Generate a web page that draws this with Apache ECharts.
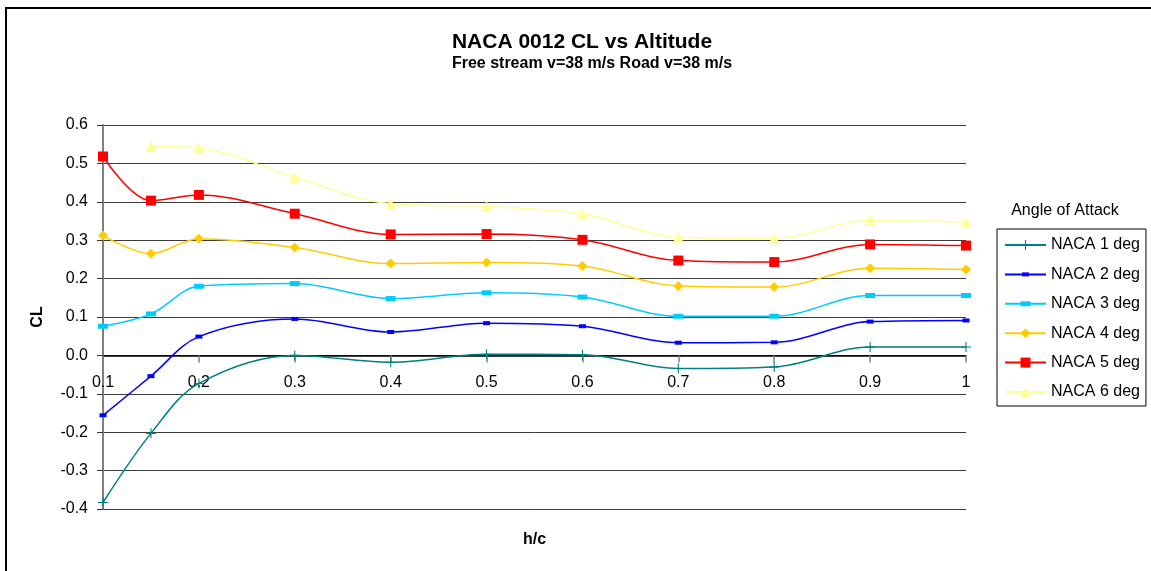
<!DOCTYPE html>
<html>
<head>
<meta charset="utf-8">
<script src="https://cdn.jsdelivr.net/npm/echarts@6/dist/echarts.min.js"></script>
<style>
  html, body { margin: 0; padding: 0; background: #ffffff; }
  #chart { width: 1151px; height: 571px; }
</style>
</head>
<body>
<div id="chart"></div>
<script>
// Height-to-chord ratio at which CL was sampled
var hc = [0.1, 0.15, 0.2, 0.3, 0.4, 0.5, 0.6, 0.7, 0.8, 0.9, 1.0];

// Lift coefficient for each angle of attack (null = no sample)
var naca1 = [-0.383, -0.203, -0.073, 0.000, -0.018, 0.003, 0.002, -0.034, -0.030, 0.022, 0.022];
var naca2 = [-0.156, -0.054, 0.049, 0.095, 0.061, 0.084, 0.076, 0.033, 0.034, 0.088, 0.091];
var naca3 = [0.076, 0.108, 0.180, 0.187, 0.148, 0.163, 0.152, 0.102, 0.102, 0.156, 0.156];
var naca4 = [0.312, 0.265, 0.304, 0.281, 0.239, 0.242, 0.233, 0.181, 0.178, 0.227, 0.224];
var naca5 = [0.518, 0.403, 0.418, 0.369, 0.315, 0.316, 0.301, 0.247, 0.243, 0.289, 0.286];
var naca6 = [null, 0.544, 0.540, 0.464, 0.395, 0.388, 0.369, 0.308, 0.305, 0.351, 0.347];

var seriesNames = ['NACA 1 deg', 'NACA 2 deg', 'NACA 3 deg', 'NACA 4 deg', 'NACA 5 deg', 'NACA 6 deg'];
var yTicks = { min: -0.4, max: 0.6, step: 0.1 };
var xTicks = { min: 0.1, max: 1.0, step: 0.1 };

var FONT = "'Liberation Sans', Arial, sans-serif";

function pairs(values) {
  var out = [];
  for (var i = 0; i < hc.length; i++) {
    if (values[i] !== null) out.push([hc[i], values[i]]);
  }
  return out;
}

// Marker shapes, all laid out in a 10x10 box so the legend icons keep the same proportions
var plusPath = 'path://M0,0 M10,10 M4.45,0 h1.1 v4.45 h4.45 v1.1 h-4.45 v4.45 h-1.1 v-4.45 h-4.45 v-1.1 h4.45 z';
var thinBar = 'path://M0,0 M10,10 M1.5,3 h7 v4 h-7 z';
var wideBar = 'path://M0,0 M10,10 M0,2.5 h10 v5 h-10 z';

var styles = [
  { color: '#008080', symbol: plusPath, size: 10 },
  { color: '#0000FF', symbol: thinBar, size: 10 },
  { color: '#00CCFF', symbol: wideBar, size: 10 },
  { color: '#FFCC00', symbol: 'diamond', size: 10 },
  { color: '#FF0000', symbol: 'rect', size: 10 },
  { color: '#FFFF99', symbol: 'triangle', size: 11 }
];

var allValues = [naca1, naca2, naca3, naca4, naca5, naca6];

var series = allValues.map(function (vals, i) {
  var s = styles[i];
  return {
    name: seriesNames[i],
    type: 'line',
    data: pairs(vals),
    smooth: 0.35,
    symbol: s.symbol,
    symbolSize: s.size,
    showAllSymbol: true,
    lineStyle: { color: s.color, width: 1.5 },
    itemStyle: { color: s.color },
    emphasis: { disabled: true },
    z: 3 + i
  };
});

var chart = echarts.init(document.getElementById('chart'), null, { renderer: 'canvas' });

chart.setOption({
  animation: false,
  backgroundColor: '#ffffff',
  textStyle: { fontFamily: FONT },
  grid: { left: 103, right: 185, top: 125, bottom: 62, outerBoundsMode: 'none', containLabel: false },
  xAxis: {
    type: 'value',
    min: xTicks.min,
    max: xTicks.max,
    interval: xTicks.step,
    name: 'h/c',
    nameLocation: 'middle',
    nameGap: 23,
    nameTextStyle: { fontFamily: FONT, fontSize: 16, fontWeight: 'bold', color: '#000' },
    axisLine: { onZero: true, lineStyle: { color: '#000', width: 1.5 } },
    axisTick: { show: true, inside: false, length: 7, lineStyle: { color: '#808080', width: 1.5 } },
    axisLabel: {
      fontFamily: FONT, fontSize: 16, color: '#000', margin: -134,
      showMinLabel: true, showMaxLabel: true,
      formatter: function (v) { return String(Math.round(v * 10) / 10); }
    },
    splitLine: { show: false }
  },
  yAxis: {
    type: 'value',
    min: yTicks.min,
    max: yTicks.max,
    interval: yTicks.step,
    name: 'CL',
    nameLocation: 'middle',
    nameGap: 57,
    nameRotate: 90,
    nameTextStyle: { fontFamily: FONT, fontSize: 16, fontWeight: 'bold', color: '#000' },
    axisLine: { onZero: false, lineStyle: { color: '#808080', width: 2 } },
    axisTick: { show: true, length: 6, lineStyle: { color: '#333', width: 1 } },
    axisLabel: {
      fontFamily: FONT, fontSize: 16, color: '#000', margin: 15,
      formatter: function (v) { return (Math.round(v * 10) / 10).toFixed(1); }
    },
    splitLine: { show: true, lineStyle: { color: '#3a3a3a', width: 1 } }
  },
  legend: {
    orient: 'vertical',
    left: 997,
    top: 229,
    data: seriesNames,
    itemWidth: 41,
    itemHeight: 12.5,
    itemGap: 13.4,
    padding: [8, 6, 6, 7],
    borderColor: '#000',
    borderWidth: 1,
    backgroundColor: '#fff',
    selectedMode: false,
    textStyle: { fontFamily: FONT, fontSize: 16, color: '#000' }
  },
  graphic: [
    {
      type: 'rect', silent: true, z: 0,
      shape: { x: 6, y: 8, width: 1160, height: 580 },
      style: { fill: null, stroke: '#000', lineWidth: 2 }
    },
    {
      type: 'text', silent: true,
      x: 582, y: 42,
      style: {
        text: 'NACA 0012 CL vs Altitude',
        font: 'bold 21px ' + FONT, fill: '#000',
        textAlign: 'center', textVerticalAlign: 'middle'
      }
    },
    {
      type: 'text', silent: true,
      x: 592, y: 64,
      style: {
        text: 'Free stream v=38 m/s Road v=38 m/s',
        font: 'bold 16px ' + FONT, fill: '#000',
        textAlign: 'center', textVerticalAlign: 'middle'
      }
    },
    {
      type: 'text', silent: true,
      x: 1065, y: 211,
      style: {
        text: 'Angle of Attack',
        font: '16px ' + FONT, fill: '#000',
        textAlign: 'center', textVerticalAlign: 'middle'
      }
    }
  ],
  series: series
});
</script>
</body>
</html>
